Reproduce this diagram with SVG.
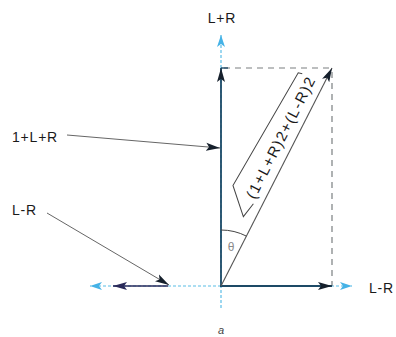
<svg xmlns="http://www.w3.org/2000/svg" width="396" height="337" viewBox="0 0 396 337">
<style>
text{font-family:"Liberation Sans",Arial,sans-serif;fill:#1a1a1a}
.lbl{font-size:14px;letter-spacing:0.8px}
.axis{stroke:#5bbde6;stroke-width:1.2;stroke-dasharray:3 2;fill:none}
.vec{stroke:#1d4a66;stroke-width:1.8;fill:none}
.diag{stroke:#555;stroke-width:1.1;fill:none}
.dash{stroke:#7a7f80;stroke-width:1.2;stroke-dasharray:6 5;fill:none}
.lead{stroke:#666;stroke-width:1;fill:none}
.thin{stroke:#444;stroke-width:1;fill:none}
</style>
<defs>
<marker id="ah" markerUnits="userSpaceOnUse" markerWidth="16" markerHeight="10" refX="14" refY="5" orient="auto"><path d="M0,1 L14,5 L0,9 L3,5 Z" fill="#16202c"/></marker>
<marker id="ahn" markerUnits="userSpaceOnUse" markerWidth="16" markerHeight="10" refX="14" refY="5" orient="auto"><path d="M0,1 L14,5 L0,9 L3,5 Z" fill="#2a2a5a"/></marker>
<marker id="ahc" markerUnits="userSpaceOnUse" markerWidth="16" markerHeight="10" refX="12" refY="5" orient="auto"><path d="M0,1 L12,5 L0,9 L3,5 Z" fill="#45b2e6"/></marker>
</defs>

<g id="connectors">
  <line class="axis" x1="221" y1="308" x2="221" y2="35" marker-end="url(#ahc)"/>
  <line class="axis" x1="331" y1="286" x2="352" y2="286" marker-end="url(#ahc)"/>
  <line class="axis" x1="221" y1="286" x2="90" y2="286" marker-end="url(#ahc)"/>
  <line class="dash" x1="224" y1="68" x2="332" y2="68"/>
  <line class="dash" x1="332" y1="72" x2="332" y2="286"/>
  <line x1="221" y1="68" x2="228" y2="68" stroke="#1d4a66" stroke-width="1.4"/>
  <line class="vec" x1="221" y1="287" x2="221" y2="68" marker-end="url(#ah)"/>
  <line class="vec" x1="220" y1="286" x2="332" y2="286" marker-end="url(#ah)"/>
  <line x1="168" y1="286" x2="113" y2="286" stroke="#2a2a5a" stroke-width="1.6" marker-end="url(#ahn)"/>
  <line class="diag" x1="221" y1="286" x2="332" y2="68" marker-end="url(#ah)"/>
  <path class="thin" d="M221,230 A56,56 0 0 1 246.4,236.1"/>
  <line class="lead" x1="67" y1="135" x2="220" y2="148" marker-end="url(#ah)"/>
  <line class="lead" x1="47" y1="213" x2="169" y2="285" marker-end="url(#ah)"/>
</g>

<g id="node-LplusR"><text class="lbl" x="222" y="23" text-anchor="middle">L+R</text></g>
<g id="node-1LR"><text class="lbl" x="12" y="142">1+L+R</text></g>
<g id="node-LminusR-left"><text class="lbl" x="12" y="215">L-R</text></g>
<g id="node-LminusR-right"><text class="lbl" x="369" y="293">L-R</text></g>
<g id="node-theta"><text x="231" y="251" font-size="12" text-anchor="middle" style="fill:#8a8a8a">θ</text></g>
<g id="node-magnitude" transform="translate(221,286) rotate(-62.99)">
  <path class="thin" d="M88,-8.5 L72,-11.6 L95,-35 L225,-28 L226,-24"/>
  <text x="92" y="-9" font-size="15" textLength="134" lengthAdjust="spacing">(1+L+R)2+(L-R)2</text>
</g>
<g id="node-a"><text x="221" y="334" font-size="11" font-style="italic" text-anchor="middle" style="fill:#444">a</text></g>
</svg>
